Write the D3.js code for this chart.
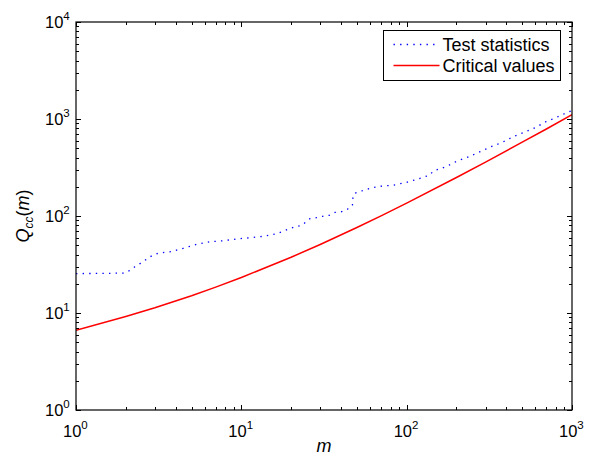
<!DOCTYPE html>
<html>
<head>
<meta charset="utf-8">
<script src="https://cdn.jsdelivr.net/npm/d3@7"></script>
<style>
  body { margin: 0; background: #fff; }
  svg { display: block; font-family: "Liberation Sans", Arial, Helvetica, sans-serif; }
</style>
</head>
<body>
<div id="chart"></div>
<script>
/* Log-log plot of test statistics vs critical values, MATLAB look */

// m values and test statistic
const testM = [1, 1.5, 1.93, 2.1, 2.27, 2.45, 2.65, 2.88, 3.13, 3.42, 3.76, 4.46, 5.37, 6.46, 7.78,
  9.37, 11.3, 13.6, 16.4, 19.2, 21.1, 23.2, 26, 28.3, 31, 34, 36.9, 40.4, 44, 47, 47.1, 48.2,
  52.7, 57.3, 62.3, 68.4, 75, 82.3, 89.5, 98, 107, 117, 127, 137, 146, 173, 202, 236, 278,
  324, 379, 442, 515, 598, 696, 808, 929, 1000];
const testQ = [25.5, 25.6, 25.8, 27.3, 30, 32.5, 35.5, 39, 41.2, 42.2, 42.9, 46.5, 51, 54.3, 55.6,
  58, 59.7, 61.7, 65.7, 73, 77.6, 80, 93.8, 96, 99.3, 101.7, 109, 110.8, 118, 129, 149, 171,
  180, 188, 196, 202, 205, 207, 214, 220, 230, 241, 252, 263, 293, 322, 369, 406, 460,
  518, 575, 658, 730, 813, 938, 1041, 1161, 1220];

// critical value curve
const critM = [1, 2, 3, 5, 7, 10, 20, 30, 50, 70, 100, 200, 300, 500, 700, 1000];
const critQ = [6.63, 9.21, 11.34, 15.09, 18.48, 23.21, 37.57, 50.89, 76.15, 100.4, 135.8,
  249.4, 359.9, 576.5, 789.2, 1107];

const xDecades = [0, 1, 2, 3];
const yDecades = [0, 1, 2, 3, 4];
const legendLabels = ["Test statistics", "Critical values"];

const width = 596, height = 458;
const margin = { top: 22, right: 24, bottom: 48, left: 76 };

const svg = d3.select("#chart").append("svg")
  .attr("width", width)
  .attr("height", height);

const x = d3.scaleLog().domain([1, 1000]).range([margin.left, width - margin.right]);
const y = d3.scaleLog().domain([1, 10000]).range([height - margin.bottom, margin.top]);

const x0 = x.range()[0], x1 = x.range()[1];
const y0 = y.range()[0], y1 = y.range()[1];

// tick positions
const xMajor = xDecades.map(e => Math.pow(10, e));
const yMajor = yDecades.map(e => Math.pow(10, e));
const minorOf = majors => majors.slice(0, -1)
  .flatMap(b => d3.range(2, 10).map(k => b * k));
const xMinor = minorOf(xMajor);
const yMinor = minorOf(yMajor);

// curves
const line = (mArr, qArr) => d3.line()
  .x((d, i) => x(mArr[i]))
  .y((d, i) => y(qArr[i]))(mArr);

svg.append("clipPath").attr("id", "plot-clip")
  .append("rect").attr("x", x0).attr("y", y1).attr("width", x1 - x0).attr("height", y0 - y1);

svg.append("path")
  .attr("d", line(testM, testQ))
  .attr("clip-path", "url(#plot-clip)")
  .attr("fill", "none")
  .attr("stroke", "#0000ff")
  .attr("stroke-width", 1.3)
  .attr("stroke-dasharray", "1.4 5.2");

svg.append("path")
  .attr("d", line(critM, critQ))
  .attr("clip-path", "url(#plot-clip)")
  .attr("fill", "none")
  .attr("stroke", "#ff0000")
  .attr("stroke-width", 1.5);

// axes: inward ticks on all four sides
const axisG = svg.append("g").attr("stroke", "#000").attr("stroke-width", 1);
const majorLen = 5, minorLen = 3;

function ticksX(vals, len) {
  vals.forEach(v => {
    const px = Math.round(x(v)) + 0.5;
    axisG.append("line").attr("x1", px).attr("x2", px).attr("y1", y0).attr("y2", y0 - len);
    axisG.append("line").attr("x1", px).attr("x2", px).attr("y1", y1).attr("y2", y1 + len);
  });
}
function ticksY(vals, len) {
  vals.forEach(v => {
    const py = Math.round(y(v)) + 0.5;
    axisG.append("line").attr("x1", x0).attr("x2", x0 + len).attr("y1", py).attr("y2", py);
    axisG.append("line").attr("x1", x1).attr("x2", x1 - len).attr("y1", py).attr("y2", py);
  });
}
ticksX(xMajor, majorLen);
ticksX(xMinor, minorLen);
ticksY(yMajor, majorLen);
ticksY(yMinor, minorLen);

svg.append("rect")
  .attr("x", x0).attr("y", y1)
  .attr("width", x1 - x0).attr("height", y0 - y1)
  .attr("fill", "none")
  .attr("stroke", "#000")
  .attr("stroke-width", 1.2);

// tick labels (10 with superscript)
function powerLabel(g, e) {
  g.append("tspan").text("10");
  g.append("tspan").attr("dy", -8).attr("font-size", 11.5).text(e);
}

xDecades.forEach(e => {
  const t = svg.append("text")
    .attr("x", x(Math.pow(10, e)) - 13)
    .attr("y", y0 + 27)
    .attr("font-size", 16.5)
    .attr("fill", "#000");
  powerLabel(t, e);
});

yDecades.forEach(e => {
  const t = svg.append("text")
    .attr("x", x0 - 31)
    .attr("y", y(Math.pow(10, e)) + 6)
    .attr("font-size", 16.5)
    .attr("fill", "#000");
  powerLabel(t, e);
});

// axis labels
svg.append("text")
  .attr("x", (x0 + x1) / 2)
  .attr("y", height - 6)
  .attr("text-anchor", "middle")
  .attr("font-size", 18)
  .attr("font-style", "italic")
  .text("m");

const yl = svg.append("text")
  .attr("transform", `translate(29, ${(y0 + y1) / 2}) rotate(-90)`)
  .attr("text-anchor", "middle")
  .attr("font-size", 18);
yl.append("tspan").attr("font-style", "italic").text("Q");
yl.append("tspan").attr("font-size", 12).attr("font-style", "italic").attr("dy", 4).text("cc");
yl.append("tspan").attr("dy", -4).text("(");
yl.append("tspan").attr("font-style", "italic").text("m");
yl.append("tspan").text(")");

// legend
const lg = svg.append("g").attr("transform", "translate(383.5, 30.5)");
lg.append("rect")
  .attr("width", 177).attr("height", 50)
  .attr("fill", "#fff").attr("stroke", "#000").attr("stroke-width", 1);

const legendStyles = [
  { color: "#0000ff", dash: "1.4 5.2", w: 1.3 },
  { color: "#ff0000", dash: null, w: 1.5 }
];
legendLabels.forEach((label, i) => {
  const cy = 14 + i * 21;
  lg.append("line")
    .attr("x1", 10).attr("x2", 56)
    .attr("y1", cy).attr("y2", cy)
    .attr("stroke", legendStyles[i].color)
    .attr("stroke-width", legendStyles[i].w)
    .attr("stroke-dasharray", legendStyles[i].dash);
  lg.append("text")
    .attr("x", 59).attr("y", cy + 6.5)
    .attr("font-size", 18)
    .text(label);
});
</script>
</body>
</html>
